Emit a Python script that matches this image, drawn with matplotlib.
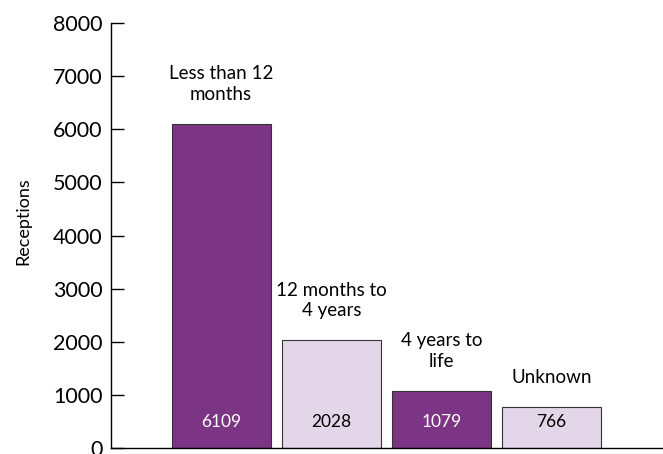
import matplotlib
matplotlib.use('Agg')
import matplotlib.pyplot as plt

plt.rcParams['font.family'] = ['Lato', 'DejaVu Sans']

categories = ['Less than 12\nmonths', '12 months to\n4 years', '4 years to\nlife', 'Unknown']
receptions = [6109, 2028, 1079, 766]
bar_colors = ['#7b3584', '#e3d6e9', '#7b3584', '#e3d6e9']
value_colors = ['white', 'black', 'white', 'black']

fig = plt.figure(figsize=(6.63, 4.54), dpi=100)
ax = fig.add_axes([0.1674, 0.0132, 0.8306, 0.936])

x = range(len(receptions))
ax.bar(x, receptions, width=0.9, color=bar_colors, edgecolor='#333333', linewidth=0.8)

for i, v in enumerate(receptions):
    # category name above each bar
    ax.annotate(categories[i], xy=(i, v), xytext=(0, 15), textcoords='offset points',
                ha='center', va='bottom', fontsize=13.5, linespacing=1.25)
    # count near the base of each bar
    ax.annotate(str(v), xy=(i, 0), xytext=(0, 19), textcoords='offset points',
                ha='center', va='center', fontsize=12.5, color=value_colors[i])

ax.set_xlim(-1, 4)
ax.set_ylim(0, 8000)
ax.set_yticks(range(0, 8001, 1000))
ax.set_xticks([])
ax.tick_params(axis='y', direction='in', length=9.5, width=1, labelsize=15.5, pad=6)
ax.set_ylabel('Receptions', fontsize=13)
ax.yaxis.set_label_coords(-0.144, 0.534)

ax.spines['top'].set_visible(False)
ax.spines['right'].set_visible(False)
ax.spines['left'].set_linewidth(1)
ax.spines['bottom'].set_linewidth(1)

fig.savefig('out.png', dpi=100)
